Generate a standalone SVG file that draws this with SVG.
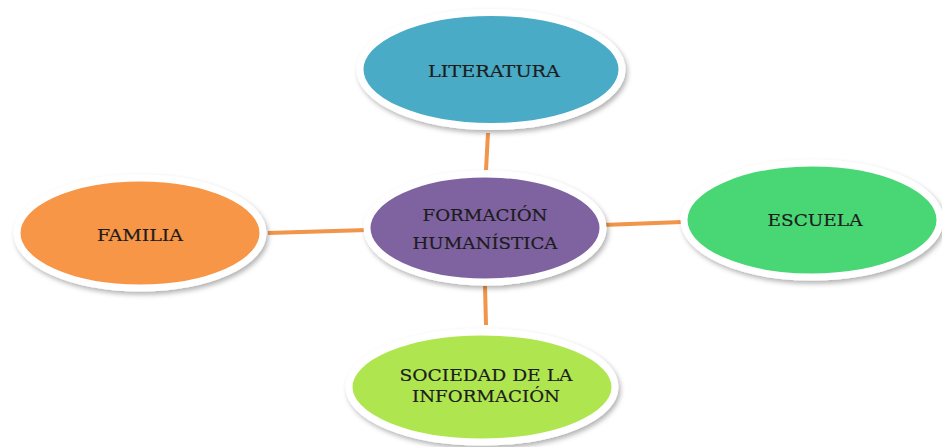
<svg xmlns="http://www.w3.org/2000/svg" width="942" height="447" viewBox="0 0 942 447">
<style>
.node ellipse{stroke:#ffffff;stroke-width:7;filter:url(#sh)}
.lbl{font-family:"DejaVu Serif","Liberation Serif",serif;font-size:17px;fill:#1c1c1c;stroke:#1c1c1c;stroke-width:0.2;text-anchor:middle;dominant-baseline:central}
.conn line{stroke:#f0954a;stroke-width:4;stroke-linecap:butt}
</style>
<defs>
<filter id="sh" x="-10%" y="-15%" width="125%" height="140%">
<feDropShadow dx="2" dy="3" stdDeviation="2.5" flood-color="#000" flood-opacity="0.3"/>
</filter>
</defs>
<rect width="942" height="447" fill="#ffffff"/>
<g id="connectors" class="conn">
<line x1="488" y1="133" x2="486" y2="170"/>
<line x1="268" y1="233" x2="367" y2="230"/>
<line x1="603" y1="225" x2="682" y2="222"/>
<line x1="485" y1="286" x2="486" y2="325"/>
</g>
<g id="literatura" class="node">
<ellipse cx="491" cy="69.5" rx="131" ry="57" fill="#4aabc6"/>
<text class="lbl" x="494" y="71" textLength="132" lengthAdjust="spacingAndGlyphs">LITERATURA</text>
</g>
<g id="formacion" class="node">
<ellipse cx="485" cy="228" rx="118" ry="54" fill="#7f63a1"/>
<text class="lbl" x="485" y="215" textLength="125" lengthAdjust="spacingAndGlyphs">FORMACIÓN</text>
<text class="lbl" x="485" y="243" textLength="145" lengthAdjust="spacingAndGlyphs">HUMANÍSTICA</text>
</g>
<g id="familia" class="node">
<ellipse cx="140" cy="233" rx="123" ry="55" fill="#f79646"/>
<text class="lbl" x="140" y="235" textLength="86" lengthAdjust="spacingAndGlyphs">FAMILIA</text>
</g>
<g id="escuela" class="node">
<ellipse cx="812" cy="220" rx="128" ry="57" fill="#48d775"/>
<text class="lbl" x="815" y="220" textLength="95" lengthAdjust="spacingAndGlyphs">ESCUELA</text>
</g>
<g id="sociedad" class="node">
<ellipse cx="482" cy="387" rx="133" ry="55" fill="#afe64f"/>
<text class="lbl" x="486" y="375" textLength="173" lengthAdjust="spacingAndGlyphs">SOCIEDAD DE LA</text>
<text class="lbl" x="486" y="396" textLength="148" lengthAdjust="spacingAndGlyphs">INFORMACIÓN</text>
</g>
</svg>
